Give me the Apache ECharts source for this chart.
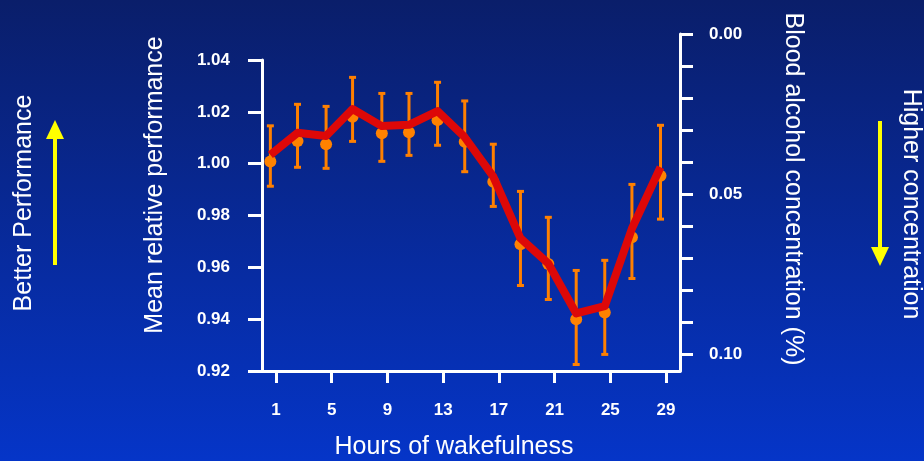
<!DOCTYPE html>
<html>
<head>
<meta charset="utf-8">
<script src="https://cdn.jsdelivr.net/npm/echarts@6/dist/echarts.min.js"></script>
<style>
  html, body { margin: 0; padding: 0; }
  #chart { width: 924px; height: 461px; }
</style>
</head>
<body>
<div id="chart"></div>
<script>
// hours of wakefulness where each mean was plotted
var hours = [0.6, 2.55, 4.6, 6.5, 8.6, 10.55, 12.6, 14.55, 16.6, 18.55, 20.55, 22.55, 24.6, 26.55, 28.6];
// mean relative performance (orange dots)
var means = [1.0008, 1.0087, 1.0075, 1.0181, 1.0117, 1.0121, 1.0168, 1.0085, 0.9930, 0.9689, 0.9613, 0.9400, 0.9426, 0.9716, 0.9953];
// error bar ends
var errHigh = [1.0146, 1.0229, 1.0221, 1.0333, 1.0271, 1.0271, 1.0314, 1.0242, 1.0075, 0.9893, 0.9793, 0.9588, 0.9627, 0.9920, 1.0148];
var errLow = [0.9913, 0.9986, 0.9982, 1.0086, 1.0009, 1.0032, 1.0071, 0.9969, 0.9835, 0.9530, 0.9476, 0.9225, 0.9264, 0.9557, 0.9786];
// red line
var lineVals = [1.0034, 1.0119, 1.0107, 1.0211, 1.0145, 1.0150, 1.0203, 1.0102, 0.9950, 0.9712, 0.9615, 0.9422, 0.9450, 0.9750, 0.9986];
// tick values
var hourTicks = [1, 5, 9, 13, 17, 21, 25, 29];
var bacTicks = [0, 0.01, 0.02, 0.03, 0.04, 0.05, 0.06, 0.07, 0.08, 0.09, 0.10];
var bacLabels = [0, 0.05, 0.10];

var chart = echarts.init(document.getElementById('chart'));

var white = '#ffffff';
var labelFont = { color: white, fontSize: 17, fontWeight: 'bold', fontFamily: 'Liberation Sans' };
var titleFont = { fill: white, fontSize: 25, fontFamily: 'Liberation Sans' };

chart.setOption({
  backgroundColor: {
    type: 'linear', x: 0, y: 0, x2: 0, y2: 1,
    colorStops: [
      { offset: 0, color: '#0a1e6a' },
      { offset: 1, color: '#0535c8' }
    ]
  },
  animation: false,
  grid: [
    { left: 262, top: 60, width: 418, height: 311 },
    { left: 262, top: 34, width: 418, height: 337 }
  ],
  xAxis: [
    {
      gridIndex: 0, type: 'value', min: 0, max: 30,
      axisLine: { onZero: false, lineStyle: { color: white, width: 3 } },
      axisTick: { customValues: hourTicks, length: 12, lineStyle: { color: white, width: 3 } },
      axisLabel: Object.assign({ customValues: hourTicks, margin: 31 }, labelFont),
      splitLine: { show: false }
    },
    { gridIndex: 1, type: 'value', min: 0, max: 30, show: false }
  ],
  yAxis: [
    {
      gridIndex: 0, type: 'value', min: 0.92, max: 1.04, interval: 0.02,
      axisLine: { show: true, onZero: false, lineStyle: { color: white, width: 3 } },
      axisTick: { show: true, length: 14, lineStyle: { color: white, width: 3 } },
      axisLabel: Object.assign({
        margin: 32,
        formatter: function (v) { return v.toFixed(2); }
      }, labelFont),
      splitLine: { show: false }
    },
    {
      gridIndex: 1, type: 'value', position: 'right', inverse: true, min: 0, max: 0.1053,
      axisLine: { show: true, onZero: false, lineStyle: { color: white, width: 3 } },
      axisTick: { show: true, customValues: bacTicks, length: 13, lineStyle: { color: white, width: 3 } },
      axisLabel: Object.assign({
        customValues: bacLabels, margin: 29,
        formatter: function (v) { return v.toFixed(2); }
      }, labelFont),
      splitLine: { show: false }
    }
  ],
  series: [
    {
      type: 'custom',
      xAxisIndex: 0, yAxisIndex: 0,
      data: hours.map(function (h, i) { return [h, errLow[i], errHigh[i]]; }),
      renderItem: function (params, api) {
        var lo = api.coord([api.value(0), api.value(1)]);
        var hi = api.coord([api.value(0), api.value(2)]);
        var style = { stroke: '#ff8000', lineWidth: 3 };
        return {
          type: 'group',
          children: [
            { type: 'line', shape: { x1: lo[0], y1: lo[1], x2: hi[0], y2: hi[1] }, style: style },
            { type: 'line', shape: { x1: hi[0] - 3.5, y1: hi[1], x2: hi[0] + 3.5, y2: hi[1] }, style: style },
            { type: 'line', shape: { x1: lo[0] - 3.5, y1: lo[1], x2: lo[0] + 3.5, y2: lo[1] }, style: style }
          ]
        };
      },
      z: 2
    },
    {
      type: 'scatter',
      xAxisIndex: 0, yAxisIndex: 0,
      data: hours.map(function (h, i) { return [h, means[i]]; }),
      symbolSize: 12,
      itemStyle: { color: '#ff8200', opacity: 1 },
      z: 3
    },
    {
      type: 'line',
      xAxisIndex: 0, yAxisIndex: 0,
      data: hours.map(function (h, i) { return [h, lineVals[i]]; }),
      showSymbol: false,
      lineStyle: { color: '#dd0808', width: 8, join: 'round' },
      z: 4
    }
  ],
  graphic: [
    { type: 'text', x: 24, y: 203, rotation: Math.PI / 2,
      style: Object.assign({ text: 'Better Performance', textAlign: 'center', textVerticalAlign: 'middle', align: 'center', verticalAlign: 'middle' }, titleFont) },
    { type: 'text', x: 155, y: 185, rotation: Math.PI / 2,
      style: Object.assign({ text: 'Mean relative performance', textAlign: 'center', textVerticalAlign: 'middle', align: 'center', verticalAlign: 'middle' }, titleFont) },
    { type: 'text', x: 793, y: 189, rotation: -Math.PI / 2,
      style: Object.assign({ text: 'Blood alcohol concentration (%)', textAlign: 'center', textVerticalAlign: 'middle', align: 'center', verticalAlign: 'middle' }, titleFont) },
    { type: 'text', x: 911, y: 204, rotation: -Math.PI / 2,
      style: Object.assign({ text: 'Higher concentration', textAlign: 'center', textVerticalAlign: 'middle', align: 'center', verticalAlign: 'middle' }, titleFont) },
    { type: 'text', x: 454, y: 447,
      style: Object.assign({ text: 'Hours of wakefulness', textAlign: 'center', textVerticalAlign: 'middle', align: 'center', verticalAlign: 'middle' }, titleFont) },
    // yellow arrows
    { type: 'line', shape: { x1: 55, y1: 265, x2: 55, y2: 136 }, style: { stroke: '#ffff00', lineWidth: 4 } },
    { type: 'polygon', shape: { points: [[46, 139], [64, 139], [55, 120]] }, style: { fill: '#ffff00' } },
    { type: 'line', shape: { x1: 880, y1: 121, x2: 880, y2: 250 }, style: { stroke: '#ffff00', lineWidth: 4 } },
    { type: 'polygon', shape: { points: [[871, 247], [889, 247], [880, 266]] }, style: { fill: '#ffff00' } }
  ]
});
</script>
</body>
</html>
